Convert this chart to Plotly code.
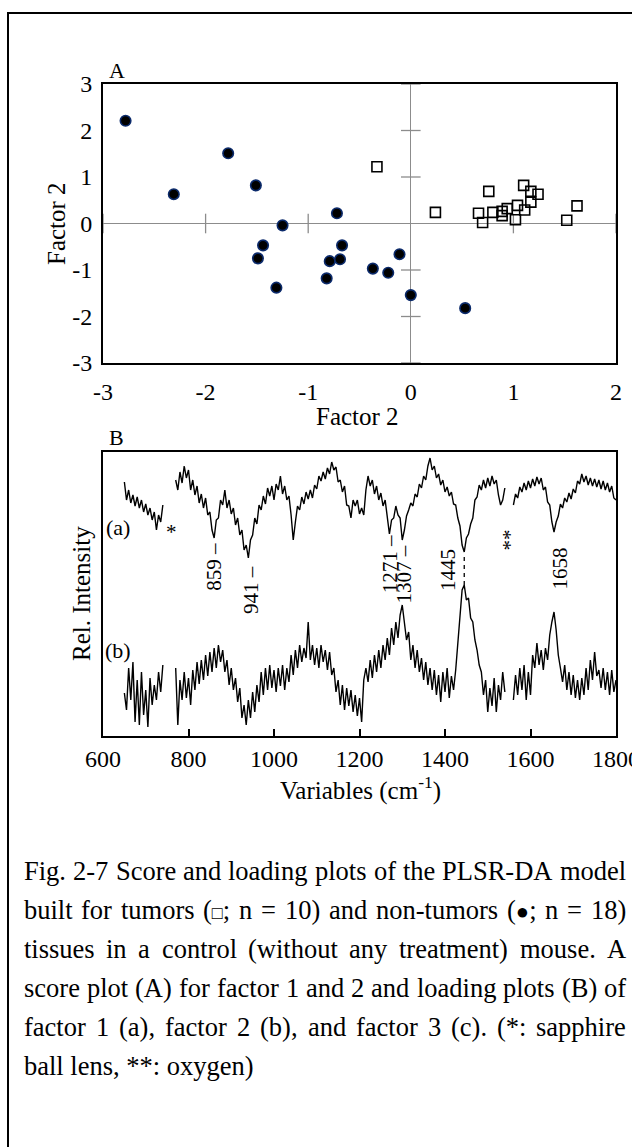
import plotly.graph_objects as go

FONT = "Liberation Serif"
W, H = 632, 1147

# ---------------- Panel A: PLSR-DA scores ----------------
tumor_f1 = [-0.33, 0.24, 0.76, 0.66, 0.70, 0.80, 0.89, 0.89, 0.94, 1.02, 1.04, 1.11, 1.10, 1.17, 1.17, 1.24, 1.62, 1.52]
tumor_f2 = [1.22, 0.24, 0.69, 0.22, 0.02, 0.24, 0.17, 0.26, 0.32, 0.08, 0.39, 0.29, 0.82, 0.69, 0.46, 0.63, 0.38, 0.07]
normal_f1 = [-2.78, -2.31, -1.78, -1.51, -1.25, -0.72, -1.44, -1.49, -1.31, -0.79, -0.82, -0.67, -0.69, -0.37, -0.22, -0.11, 0.00, 0.53]
normal_f2 = [2.21, 0.63, 1.51, 0.82, -0.04, 0.22, -0.47, -0.75, -1.38, -0.81, -1.18, -0.47, -0.77, -0.97, -1.06, -0.66, -1.54, -1.82]
a_xticks = [-3, -2, -1, 0, 1, 2]
a_xlabels = ["-3", "-2", "-1", "0", "1", "2"]
a_yticks = [-3, -2, -1, 0, 1, 2, 3]
a_ylabels = ["-3", "-2", "-1", "0", "1", "2", "3"]

# ---------------- Panel B: loadings (x0.01) ----------------
seg1_wn = list(range(650, 741, 5))
seg2_wn = list(range(770, 1541, 5))
seg3_wn = list(range(1560, 1801, 5))

load1_seg1 = [13, -5, 5, -8, 0, -11, -2, -13, -5, -17, -9, -20, -13, -25, -17, -35, -20, -27, -10]
load1_seg2 = [15, 5, 23, 12, 29, 17,
              25, 5, 15, 0, 9, -8, 1, -13, -3, -20,
              -17, -35, -43, -25, -23, -5, -10, 5, -13, -5,
              -19, -13, -30, -23, -40, -35, -55, -50, -63, -45,
              -40, -23, -29, -10, -15, -1, -9, 7, -1, 9,
              -5, 11, 5, 19, 1, 9, -5, -1, -20, -45,
              -27, -11, -15, -2, -9, 3, -4, 5, -3, 10,
              6, 19, 14, 23, 16, 27, 21, 33, 25, 28,
              13, 15, 3, 9, -10, -11, -23, -5, -11, -5,
              -19, -13, -20, 5, 19, 9, 15, 1, 9, -5,
              2, -11, -5, -23, -39, -25, -23, -11, -20, -23,
              -45, -35, -21, -15, -8, -11, 1, -2, 11, 7,
              19, 15, 29, 37, 25, 29, 17, 21, 10, 15,
              3, 8, -1, 3, -9, -10, -23, -31, -50, -57,
              -43, -39, -29, -23, -5, -2, 10, 5, 15, 7,
              17, 9, 19, 11, 15, 0, -10, -5, 7]
load1_seg3 = [-10, 1, -3, 8, 3, 12, 5, 14, 7, 16,
              9, 18, 11, 17, 5, 8, -7, -10, -27, -37,
              -27, -21, -9, -13, -3, -7, 2, -4, 6, 2,
              14, 11, 21, 13, 19, 10, 17, 9, 16, 8,
              15, 6, 14, 5, 12, 3, 9, -3, -5]

load2_seg1 = [-8, -25, 17, -15, 23, -37, 5, -40, 13, -30, -5, -42, 7, -20, 0, -15, 13, -7, 20]
load2_seg2 = [17, -40, 5, -15, 13, -13,
              7, -20, 15, -5, 23, 1, 25, 5, 30, 9,
              33, 13, 37, 17, 40, 23, 35, 13, 25, 0,
              17, -5, 7, -17, -3, -33, -20, -40, -15, -33,
              -7, -27, 0, -17, 13, -10, 17, -5, 20, -3,
              15, -7, 17, -1, 20, -5, 17, 3, 30, 10,
              35, 17, 40, 23, 37, 27, 63, 25, 40, 20,
              37, 17, 40, 23, 35, 15, 33, 10, 17, -7,
              5, -20, 0, -25, -3, -21, -5, -27, -10, -31,
              -13, -37, 5, 17, 3, 25, 7, 30, 13, 35,
              17, 40, 25, 47, 30, 57, 40, 63, 47, 70,
              80, 60, 45, 53, 25, 40, 17, 35, 13, 27,
              5, 23, 0, 17, -5, 15, -10, 10, -17, 13,
              -7, 17, -13, 9, -5, 15, 45, 73, 95, 100,
              85, 87, 67, 63, 45, 35, 20, 13, -10, 5,
              -27, -3, -21, 7, -27, 0, -15, 13, -7]
load2_seg3 = [-15, 10, -10, 17, -5, 20, -15, 13, -10, 30,
              17, 42, 20, 35, 15, 37, 25, 50, 63, 73,
              55, 30, 17, 3, 20, -5, 13, -10, 10, -13,
              5, -15, 7, -10, 17, -5, 25, 5, 33, 9,
              15, -3, 17, -5, 13, -10, 15, -7, 5]

b_xticks = [600, 800, 1000, 1200, 1400, 1600, 1800]
b_xlabels = ["600", "800", "1000", "1200", "1400", "1600", "1800"]
peak_labels = [("859 \u2013", 859, 1.69), ("941 \u2013", 946, 1.46), ("1271 \u2013", 1272, 1.72),
               ("1307 \u2013", 1305, 1.62), ("1445", 1407, 1.66), ("1658", 1670, 1.68)]

caption_lines = [
    "Fig. 2-7 Score and loading plots of the PLSR-DA model",
    "built for tumors (\u25a1; n = 10) and non-tumors (\u25cf; n = 18)",
    "tissues in a control (without any treatment) mouse. A",
    "score plot (A) for factor 1 and 2 and loading plots (B) of",
    "factor 1 (a), factor 2 (b), and factor 3 (c). (*: sapphire",
    "ball lens, **: oxygen)",
]
caption_justified = [True, True, True, True, True, False]

OFF_A, OFF_B = 2.41, 0.51


def build(segs_wn, segs_ld, off):
    xs, ys = [], []
    for wn, ld in zip(segs_wn, segs_ld):
        xs += wn + [None]
        ys += [off + v / 100.0 for v in ld] + [None]
    return xs, ys


xa, ya = build([seg1_wn, seg2_wn, seg3_wn], [load1_seg1, load1_seg2, load1_seg3], OFF_A)
xb, yb = build([seg1_wn, seg2_wn, seg3_wn], [load2_seg1, load2_seg2, load2_seg3], OFF_B)

fig = go.Figure()

# zero-line tick marks (panel A)
fig.add_trace(go.Scatter(x=[-3, -2, -1, 1, 2], y=[0] * 5, mode="markers", xaxis="x", yaxis="y",
                         marker=dict(symbol="line-ns", size=14, line=dict(color="#8c8c8c", width=1.3)),
                         cliponaxis=False, hoverinfo="skip", showlegend=False))
fig.add_trace(go.Scatter(x=[0] * 6, y=[-3, -2, -1, 1, 2, 3], mode="markers", xaxis="x", yaxis="y",
                         marker=dict(symbol="line-ew", size=14, line=dict(color="#8c8c8c", width=1.3)),
                         cliponaxis=False, hoverinfo="skip", showlegend=False))

fig.add_trace(go.Scatter(x=tumor_f1, y=tumor_f2, mode="markers", xaxis="x", yaxis="y",
                         marker=dict(symbol="square-open", size=10, color="black", line=dict(width=1.6, color="black")),
                         showlegend=False, cliponaxis=False))
fig.add_trace(go.Scatter(x=normal_f1, y=normal_f2, mode="markers", xaxis="x", yaxis="y",
                         marker=dict(symbol="circle", size=10.5, color="black", line=dict(width=1.6, color="#0b2a6b")),
                         showlegend=False, cliponaxis=False))

fig.add_trace(go.Scatter(x=xa, y=ya, mode="lines", xaxis="x2", yaxis="y2", connectgaps=False,
                         line=dict(color="black", width=1.4), showlegend=False))
fig.add_trace(go.Scatter(x=xb, y=yb, mode="lines", xaxis="x2", yaxis="y2", connectgaps=False,
                         line=dict(color="black", width=1.4), showlegend=False))

XD = [103 / W, 616 / W]
tickfont = dict(family=FONT, size=24, color="black")

fig.update_layout(
    width=W, height=H, margin=dict(l=0, r=0, t=0, b=0, autoexpand=False),
    paper_bgcolor="white", plot_bgcolor="white",
    font=dict(family=FONT, color="black"),
    xaxis=dict(domain=XD, range=[-3, 2], tickvals=a_xticks, ticktext=a_xlabels, tickfont=tickfont,
               showgrid=False, zeroline=True, zerolinecolor="#8c8c8c", zerolinewidth=1.3,
               showline=True, mirror=True, linecolor="black", linewidth=2, ticks="",
               anchor="y", ticklabelstandoff=6, ticklabeloverflow="allow", automargin=False),
    yaxis=dict(domain=[1 - 363 / H, 1 - 84 / H], range=[-3, 3], tickvals=a_yticks, ticktext=a_ylabels,
               tickfont=tickfont, showgrid=False, zeroline=True, zerolinecolor="#8c8c8c", zerolinewidth=1.3,
               showline=True, mirror=True, linecolor="black", linewidth=2, ticks="", anchor="x",
               ticklabelstandoff=4, ticklabeloverflow="allow", automargin=False),
    xaxis2=dict(domain=XD, range=[600, 1800], tickvals=b_xticks, ticktext=b_xlabels, tickfont=tickfont,
                showgrid=False, zeroline=False, showline=True, mirror=True, linecolor="black", linewidth=2,
                ticks="inside", ticklen=7, tickwidth=1.5, tickcolor="black", anchor="y2",
                ticklabeloverflow="allow", automargin=False),
    yaxis2=dict(domain=[1 - 736 / H, 1 - 452 / H], range=[0, 2.84], showticklabels=False, showgrid=False,
                zeroline=False, showline=True, mirror=True, linecolor="black", linewidth=2, ticks="",
                anchor="x2", automargin=False),
)

ann = []


def pa(text, xp, yp, size, angle=0, xanchor="center"):
    ann.append(dict(text=text, x=xp / W, y=1 - yp / H, xref="paper", yref="paper", showarrow=False,
                    textangle=angle, xanchor=xanchor, yanchor="middle",
                    font=dict(family=FONT, size=size, color="black")))


pa("A", 117, 70, 22)
pa("B", 117, 437, 22)
pa("Factor 2", 357, 416, 25)
pa("Factor 2", 56, 224, 25, angle=-90)
pa("Rel. Intensity", 81, 594, 25, angle=-90)
pa("Variables (cm<sup>-1</sup>)", 360, 788, 25)

for txt, wx, wy in peak_labels:
    ann.append(dict(text=txt, x=wx, y=wy, xref="x2", yref="y2", showarrow=False, textangle=-90,
                    font=dict(family=FONT, size=21, color="black")))
ann.append(dict(text="*", x=760, y=2.04, xref="x2", yref="y2", showarrow=False,
                font=dict(family=FONT, size=21, color="black")))
ann.append(dict(text="**", x=1553, y=1.96, xref="x2", yref="y2", showarrow=False, textangle=-90,
                font=dict(family=FONT, size=21, color="black")))
ann.append(dict(text="(a)", x=636, y=2.09, xref="x2", yref="y2", showarrow=False,
                font=dict(family=FONT, size=22, color="black")))
ann.append(dict(text="(b)", x=636, y=0.86, xref="x2", yref="y2", showarrow=False,
                font=dict(family=FONT, size=22, color="black")))

# ---- justified caption (Times metrics, 1/1000 em) ----
CW = {' ': 250, '.': 250, ',': 250, '-': 333, '(': 333, ')': 333, ';': 278, ':': 278, '=': 564, '*': 500,
      'a': 444, 'b': 500, 'c': 444, 'd': 500, 'e': 444, 'f': 333, 'g': 500, 'h': 500, 'i': 278, 'k': 500,
      'l': 278, 'm': 778, 'n': 500, 'o': 500, 'p': 500, 'r': 333, 's': 389, 't': 278, 'u': 500, 'w': 722,
      'x': 500, 'y': 500, 'A': 722, 'B': 667, 'D': 722, 'F': 556, 'L': 611, 'P': 556, 'R': 667, 'S': 556}
CAP_SIZE = 26.5
SYM_SIZE = {'\u25a1': 18, '\u25cf': 22}
LEFT, RIGHT = 24, 626


def word_html_width(word):
    html, w = "", 0.0
    for ch in word:
        if ch in SYM_SIZE:
            html += '<span style="font-size:%dpx">%s</span>' % (SYM_SIZE[ch], ch)
            w += 0.604 * SYM_SIZE[ch]
        else:
            html += ch
            w += CW.get(ch, 500) / 1000.0 * CAP_SIZE
    return html, w


for i, (line, just) in enumerate(zip(caption_lines, caption_justified)):
    yp = 871 + 39 * i
    if not just:
        pa(word_html_width(line)[0], LEFT - 2, yp, CAP_SIZE, xanchor="left")
        continue
    words = [word_html_width(w) for w in line.split(" ")]
    total = sum(w for _, w in words)
    gap = (RIGHT - LEFT - total) / (len(words) - 1)
    x = LEFT
    for html, w in words:
        pa(html, x - 2, yp, CAP_SIZE, xanchor="left")
        x += w + gap

fig.update_layout(annotations=ann)

fig.add_shape(type="line", xref="x2", yref="y2", x0=1445, x1=1445, y0=1.51, y1=1.80,
              line=dict(color="black", width=1.3, dash="4px,4px"))
fig.add_shape(type="rect", xref="paper", yref="paper", x0=8 / W, x1=1.05, y0=-0.05, y1=1 - 13 / H,
              line=dict(color="black", width=2), layer="below")

fig.write_html("out.html")
